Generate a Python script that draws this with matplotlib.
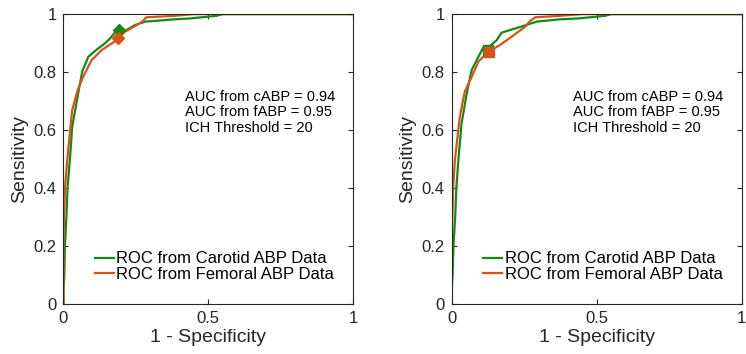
import matplotlib
matplotlib.use('Agg')
import matplotlib.pyplot as plt

plt.rcParams['font.family'] = ['Liberation Sans', 'DejaVu Sans']

# ROC curves (1 - specificity, sensitivity)
left_carotid_fpr = [0, 0.0, 0.003, 0.005, 0.01, 0.014, 0.022, 0.030, 0.054, 0.065, 0.086, 0.109,
                    0.143, 0.161, 0.193, 0.207, 0.247, 0.282, 0.385, 0.437, 0.529, 0.55, 1.0]
left_carotid_tpr = [0, 0.05, 0.1, 0.2, 0.3, 0.4, 0.497, 0.611, 0.744, 0.803, 0.853, 0.873,
                    0.899, 0.916, 0.954, 0.939, 0.962, 0.974, 0.982, 0.985, 0.994, 1.0, 1.0]
left_femoral_fpr = [0, 0.0, 0.002, 0.005, 0.014, 0.030, 0.049, 0.068, 0.097, 0.132, 0.184,
                    0.212, 0.253, 0.272, 0.287, 0.385, 0.45, 1.0]
left_femoral_tpr = [0, 0.2, 0.3, 0.4, 0.508, 0.669, 0.738, 0.784, 0.841, 0.876, 0.910,
                    0.939, 0.962, 0.974, 0.989, 0.994, 1.0, 1.0]

right_carotid_fpr = [0, 0.0, 0.003, 0.006, 0.012, 0.016, 0.023, 0.034, 0.052, 0.069, 0.086, 0.109,
                     0.132, 0.155, 0.172, 0.195, 0.247, 0.293, 0.374, 0.437, 0.529, 0.55, 1.0]
right_carotid_tpr = [0, 0.05, 0.1, 0.2, 0.3, 0.4, 0.497, 0.623, 0.727, 0.807, 0.841, 0.885,
                     0.890, 0.910, 0.936, 0.943, 0.959, 0.974, 0.982, 0.985, 0.994, 1.0, 1.0]
right_femoral_fpr = [0, 0.0, 0.002, 0.005, 0.011, 0.028, 0.045, 0.069, 0.092, 0.126, 0.166,
                     0.207, 0.253, 0.268, 0.288, 0.374, 0.45, 1.0]
right_femoral_tpr = [0, 0.2, 0.3, 0.4, 0.497, 0.646, 0.732, 0.784, 0.836, 0.870, 0.893,
                     0.922, 0.956, 0.974, 0.989, 0.994, 1.0, 1.0]

# operating points (carotid, femoral)
left_points = [(0.193, 0.945), (0.189, 0.916)]
right_points = [(0.124, 0.876), (0.129, 0.870)]

annot_lines = ['AUC from cABP = 0.94', 'AUC from fABP = 0.95', 'ICH Threshold = 20']
legend_labels = ['ROC from Carotid ABP Data', 'ROC from Femoral ABP Data']

GREEN = '#138a13'
ORANGE = '#d95319'
AX_COLOR = '#262626'


def draw_panel(ax, c_fpr, c_tpr, f_fpr, f_tpr, points, marker, msize):
    ax.plot(c_fpr, c_tpr, color=GREEN, lw=1.6, label=legend_labels[0])
    ax.plot(f_fpr, f_tpr, color=ORANGE, lw=1.6, label=legend_labels[1])
    ax.plot(*points[0], marker=marker, ms=msize, color=GREEN, ls='none')
    ax.plot(*points[1], marker=marker, ms=msize, color=ORANGE, ls='none')

    ax.set_xlim(0, 1)
    ax.set_ylim(0, 1)
    ax.set_xticks([0, 0.5, 1])
    ax.set_xticklabels(['0', '0.5', '1'])
    ax.set_yticks([0, 0.2, 0.4, 0.6, 0.8, 1])
    ax.set_yticklabels(['0', '0.2', '0.4', '0.6', '0.8', '1'])
    ax.tick_params(direction='in', top=True, right=True, length=3.5, width=0.8,
                   color=AX_COLOR, labelcolor=AX_COLOR, labelsize=12, pad=5)
    for sp in ax.spines.values():
        sp.set_color(AX_COLOR)
        sp.set_linewidth(0.8)
    ax.set_xlabel('1 - Specificity', fontsize=14, color=AX_COLOR, labelpad=2)
    ax.set_ylabel('Sensitivity', fontsize=14, color=AX_COLOR, labelpad=4)

    for i, txt in enumerate(annot_lines):
        ax.text(0.42, 0.714 - i * 0.053, txt, transform=ax.transAxes,
                fontsize=10.5, va='center', ha='left', color='black')

    ax.legend(loc='lower left', bbox_to_anchor=(0.108, 0.075), frameon=False,
              fontsize=12, handlelength=1.15, handletextpad=0.15,
              labelspacing=0.05, borderpad=0, borderaxespad=0)


fig = plt.figure(figsize=(7.46, 3.54), dpi=100)
ax1 = fig.add_axes([0.0851, 0.1412, 0.388, 0.819])
ax2 = fig.add_axes([0.6055, 0.1412, 0.3887, 0.819])

draw_panel(ax1, left_carotid_fpr, left_carotid_tpr, left_femoral_fpr, left_femoral_tpr,
           left_points, 'D', 6)
draw_panel(ax2, right_carotid_fpr, right_carotid_tpr, right_femoral_fpr, right_femoral_tpr,
           right_points, 's', 7)

fig.savefig('out.png', dpi=100)
